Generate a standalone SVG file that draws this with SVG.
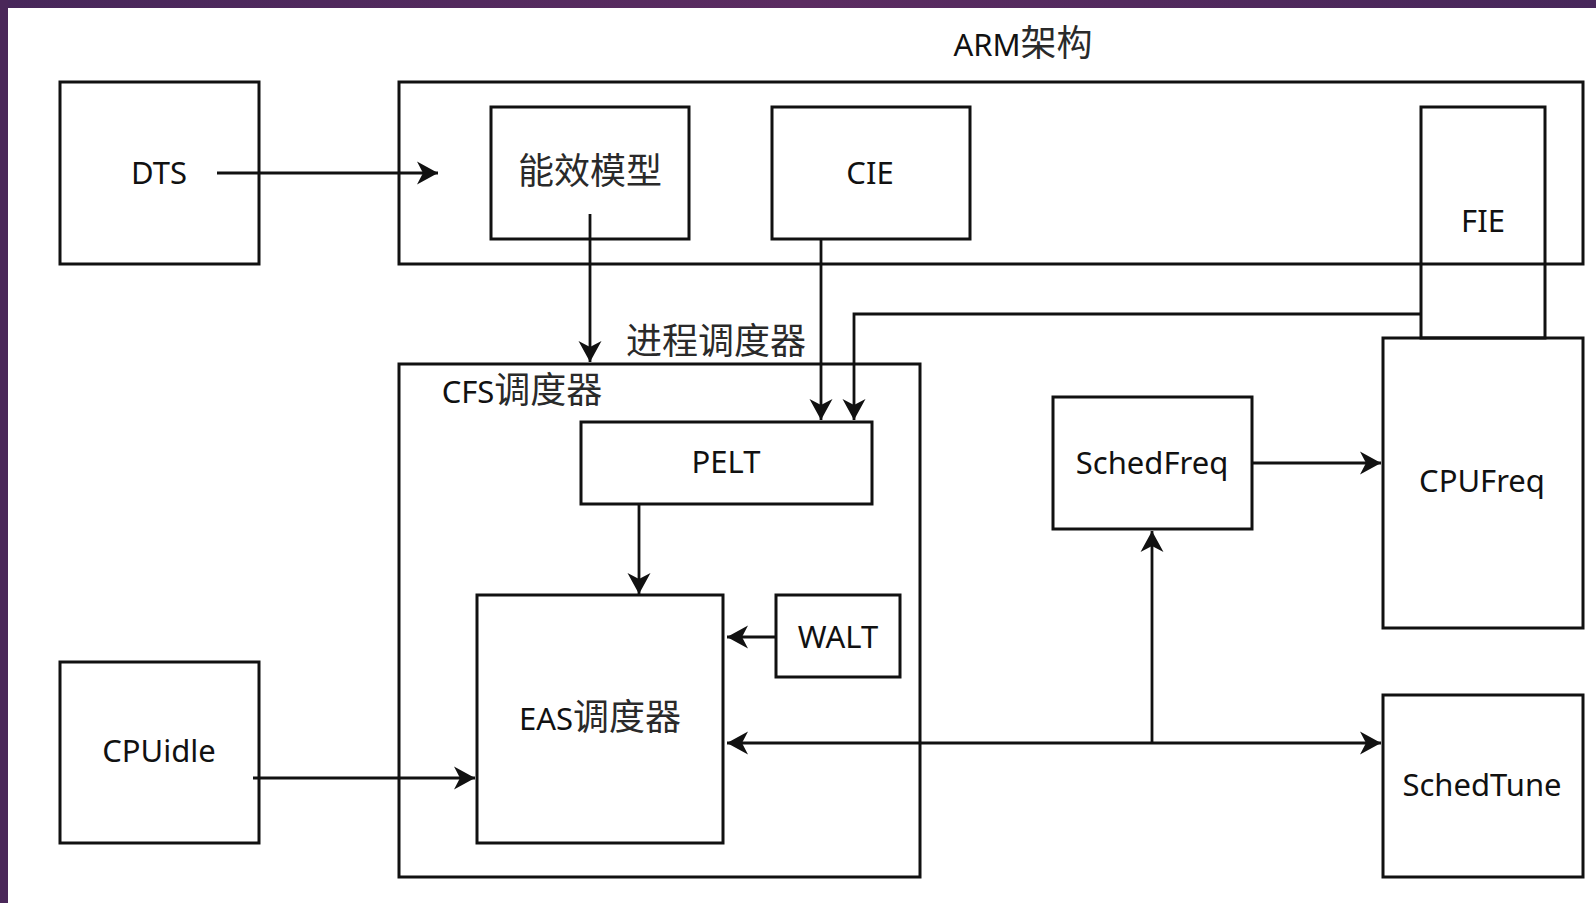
<svg xmlns="http://www.w3.org/2000/svg" width="1596" height="903" viewBox="0 0 1596 903">
  <defs>
    <linearGradient id="frame" x1="0" y1="0" x2="1" y2="0">
      <stop offset="0" stop-color="#47275a"/>
      <stop offset="0.5" stop-color="#5b2c61"/>
      <stop offset="1" stop-color="#47275a"/>
    </linearGradient>
    <marker id="arr" viewBox="-23 -13 24 26" markerWidth="24" markerHeight="26" refX="0" refY="0" orient="auto" markerUnits="userSpaceOnUse">
      <path d="M0,0 L-21,-11.5 L-15,0 L-21,11.5 Z" fill="#111"/>
    </marker>
    <marker id="arrs" viewBox="-23 -13 24 26" markerWidth="24" markerHeight="26" refX="0" refY="0" orient="auto-start-reverse" markerUnits="userSpaceOnUse">
      <path d="M0,0 L-21,-11.5 L-15,0 L-21,11.5 Z" fill="#111"/>
    </marker>
  </defs>
  <style>
    .box { fill: none; stroke: #111; stroke-width: 3; }
    .ln { fill: none; stroke: #111; stroke-width: 2.8; }
    .t { font-family: "Noto Sans", "Open Sans", "Noto Sans CJK SC", sans-serif; font-size: 31px; fill: #111; text-anchor: middle; }
    .cjk { font-family: "Noto Sans CJK SC", sans-serif; font-size: 36px; fill: #2a2a2a; }
  </style>
  <rect x="0" y="0" width="1596" height="903" fill="#ffffff"/>
  <rect x="0" y="0" width="1596" height="8" fill="url(#frame)"/>
  <rect x="0" y="0" width="8" height="903" fill="#4a2759"/>

  <g id="arm">
    <rect class="box" x="399" y="82" width="1184" height="182"/>
    <text class="t" x="1023" y="56"><tspan>ARM</tspan><tspan class="cjk">架构</tspan></text>
  </g>
  <g id="dts">
    <rect class="box" x="60" y="82" width="199" height="182"/>
    <text class="t" x="159" y="184">DTS</text>
  </g>
  <g id="energy-model">
    <rect class="box" x="491" y="107" width="198" height="132"/>
    <text class="t cjk" x="590" y="184">能效模型</text>
  </g>
  <g id="cie">
    <rect class="box" x="772" y="107" width="198" height="132"/>
    <text class="t" x="870" y="184">CIE</text>
  </g>
  <g id="fie">
    <rect class="box" x="1421" y="107" width="124" height="231"/>
    <text class="t" x="1483" y="232">FIE</text>
  </g>
  <g id="cpufreq">
    <rect class="box" x="1383" y="338" width="200" height="290"/>
    <text class="t" x="1482" y="492">CPUFreq</text>
  </g>
  <g id="schedfreq">
    <rect class="box" x="1053" y="397" width="199" height="132"/>
    <text class="t" x="1152" y="474">SchedFreq</text>
  </g>
  <g id="schedtune">
    <rect class="box" x="1383" y="695" width="200" height="182"/>
    <text class="t" x="1482" y="796">SchedTune</text>
  </g>
  <g id="process-scheduler">
    <text class="t cjk" x="716" y="354">进程调度器</text>
  </g>
  <g id="cfs">
    <rect class="box" x="399" y="364" width="521" height="513"/>
    <text class="t" x="522" y="403"><tspan>CFS</tspan><tspan class="cjk">调度器</tspan></text>
  </g>
  <g id="pelt">
    <rect class="box" x="581" y="422" width="291" height="82"/>
    <text class="t" x="726" y="473">PELT</text>
  </g>
  <g id="eas">
    <rect class="box" x="477" y="595" width="246" height="248"/>
    <text class="t" x="600" y="730"><tspan>EAS</tspan><tspan class="cjk">调度器</tspan></text>
  </g>
  <g id="walt">
    <rect class="box" x="776" y="595" width="124" height="82"/>
    <text class="t" x="838" y="648">WALT</text>
  </g>
  <g id="cpuidle">
    <rect class="box" x="60" y="662" width="199" height="181"/>
    <text class="t" x="159" y="762">CPUidle</text>
  </g>

  <g id="connectors">
    <path class="ln" d="M217,173 H438" marker-end="url(#arr)"/>
    <path class="ln" d="M590,214 V362" marker-end="url(#arr)"/>
    <path class="ln" d="M821,239 V420" marker-end="url(#arr)"/>
    <path class="ln" d="M1421,314 H854 V420" marker-end="url(#arr)"/>
    <path class="ln" d="M639,504 V594" marker-end="url(#arr)"/>
    <path class="ln" d="M776,637 H727" marker-end="url(#arr)"/>
    <path class="ln" d="M253,778 H475" marker-end="url(#arr)"/>
    <path class="ln" d="M727,743 H1381" marker-start="url(#arrs)" marker-end="url(#arr)"/>
    <path class="ln" d="M1152,743 V531" marker-end="url(#arr)"/>
    <path class="ln" d="M1252,463 H1381" marker-end="url(#arr)"/>
  </g>
</svg>
